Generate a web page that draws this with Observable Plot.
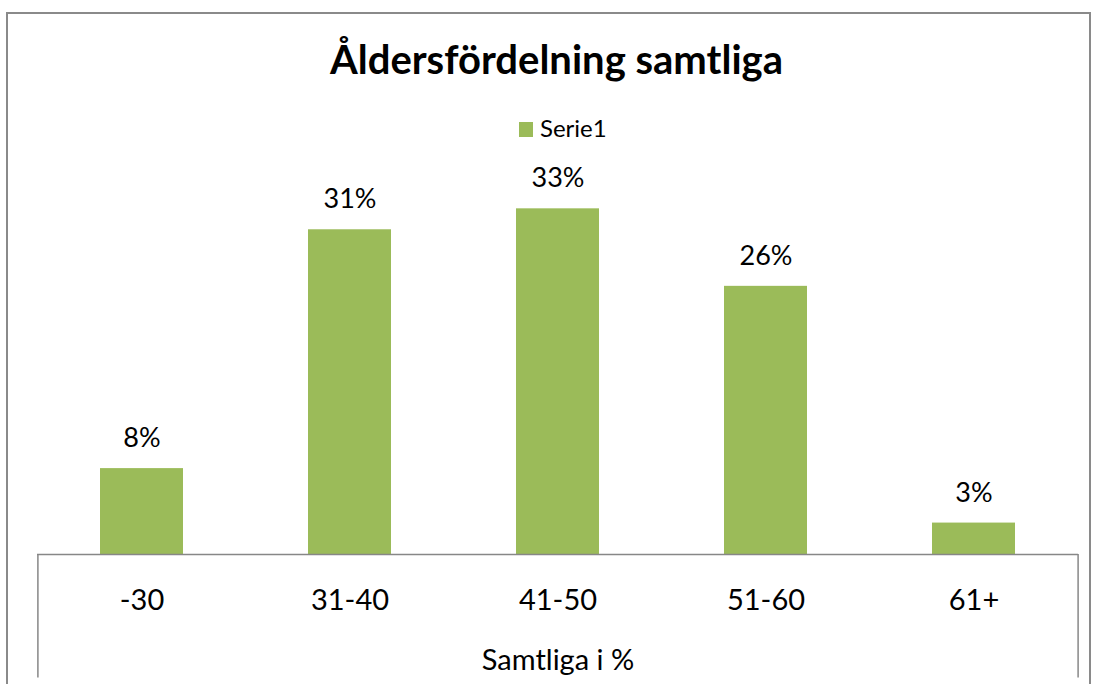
<!DOCTYPE html>
<html>
<head>
<meta charset="utf-8">
<script src="https://cdn.jsdelivr.net/npm/d3@7"></script>
<script src="https://cdn.jsdelivr.net/npm/@observablehq/plot@0.6"></script>
<style>
  html, body { margin: 0; padding: 0; background: #fff; }
  #wrap { position: relative; width: 1095px; height: 684px; overflow: hidden; font-family: Lato, "Open Sans", sans-serif; }
  #frame { position: absolute; left: 6px; top: 12px; width: 1085px; height: 720px; border: 2px solid #8a8a8a; box-sizing: border-box; }
  #title { position: absolute; left: 9px; width: 1095px; top: 39px; text-align: center; font-weight: 700; font-size: 40px; line-height: 1; color: #000; }
  #legend { position: absolute; left: 519px; top: 116px; font-size: 24px; line-height: 1; color: #000; }
  #legend .sw { position: absolute; left: 0; top: 6px; width: 14px; height: 15px; background: #9BBB59; }
  #legend .lb { position: absolute; left: 21px; top: 0; white-space: nowrap; }
  #chart { position: absolute; left: 0; top: 0; }
</style>
</head>
<body>
<div id="wrap">
  <div id="frame"></div>
  <div id="chart"></div>
  <div id="title"></div>
  <div id="legend"><div class="sw"></div><div class="lb"></div></div>
</div>
<script>
const titleText = "Åldersfördelning samtliga";
const seriesName = "Serie1";
const xAxisLabel = "Samtliga i %";
const categories = ["-30", "31-40", "41-50", "51-60", "61+"];
const values = [0.082, 0.31, 0.33, 0.256, 0.03];
const valueLabels = ["8%", "31%", "33%", "26%", "3%"];

document.getElementById("title").textContent = titleText;
document.querySelector("#legend .lb").textContent = seriesName;

const data = categories.map((c, i) => ({ age: c, value: values[i], label: valueLabels[i] }));

const W = 1095, H = 684, mL = 37, mR = 17, mT = 135, mB = 130;
const step = (W - mL - mR) / categories.length;
const gray = "#878787";

const chart = Plot.plot({
  width: W,
  height: H,
  marginLeft: mL,
  marginRight: mR,
  marginTop: mT,
  marginBottom: mB,
  style: { fontFamily: "Lato, 'Open Sans', sans-serif", fontSize: "29px", color: "#000", background: "transparent" },
  x: { domain: categories, paddingInner: 0.6, paddingOuter: 0.3, label: null, tickSize: 0, tickPadding: 35 },
  y: { domain: [0, 0.40], axis: null },
  marks: [
    Plot.barY(data, { x: "age", y: "value", fill: "#9BBB59" }),
    Plot.ruleY([0], { stroke: gray, strokeWidth: 1.5 }),
    Plot.ruleX([categories[0]], { x: d => d, dx: -step / 2, y1: 0, y2: -0.118, stroke: gray, strokeWidth: 1.5 }),
    Plot.ruleX([categories[categories.length - 1]], { x: d => d, dx: step / 2, y1: 0, y2: -0.118, stroke: gray, strokeWidth: 1.5 }),
    Plot.text(data, { x: "age", y: "value", text: "label", dy: -30, lineAnchor: "middle", fill: "#000", fontSize: 27 }),
    Plot.text([xAxisLabel], { frameAnchor: "bottom", text: d => d, dy: 106, lineAnchor: "middle", fill: "#000", fontSize: 29 })
  ]
});
document.getElementById("chart").appendChild(chart);
</script>
</body>
</html>
